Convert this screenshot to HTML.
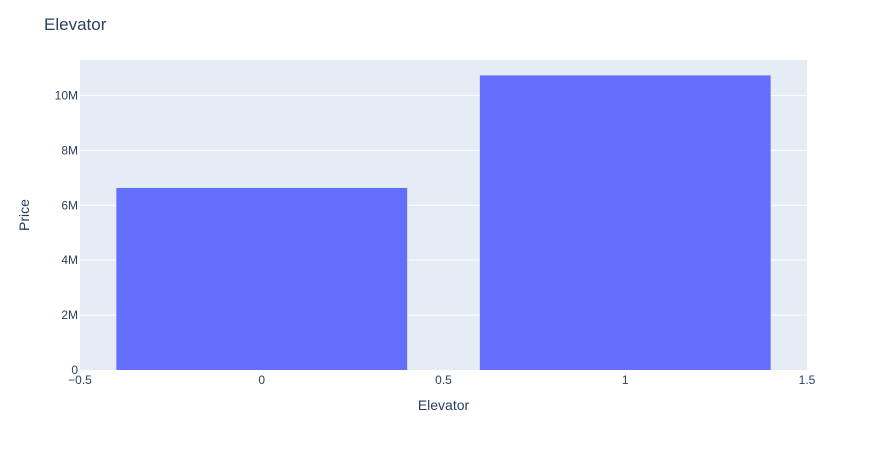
<!DOCTYPE html>
<html>
<head>
<meta charset="utf-8">
<style>
  html, body { margin: 0; padding: 0; background: #fff; }
  svg { display: block; font-family: "Liberation Sans", "DejaVu Sans", sans-serif; }
</style>
</head>
<body>
<svg id="chart" width="887" height="450" viewBox="0 0 887 450" xmlns="http://www.w3.org/2000/svg">
  <rect x="80" y="60" width="727" height="310" fill="#e5ecf6"></rect>
  <g id="grid"></g>
  <g id="bars"></g>
  <g id="yticks"></g>
  <g id="xticks"></g>
  <text x="44" y="30" font-size="17" fill="#2a3f5f">Elevator</text>
  <text x="443.5" y="410" font-size="14" fill="#2a3f5f" text-anchor="middle">Elevator</text>
  <text x="29" y="215" font-size="14" fill="#2a3f5f" text-anchor="middle" transform="rotate(-90 29 215)">Price</text>
</svg>
<script>
const categories = [0, 1];
const prices = [6630000, 10730000];
const yTickValues = [0, 2000000, 4000000, 6000000, 8000000, 10000000];
const yTickLabels = ["0", "2M", "4M", "6M", "8M", "10M"];
const xTickValues = [-0.5, 0, 0.5, 1, 1.5];
const xTickLabels = ["\u22120.5", "0", "0.5", "1", "1.5"];

const NS = "http://www.w3.org/2000/svg";
const plotL = 80, plotR = 807, plotT = 60, plotB = 370;
const xMin = -0.5, xMax = 1.5, yMin = 0, yMax = 11290000;
function xScale(v) { return plotL + (v - xMin) / (xMax - xMin) * (plotR - plotL); }
function yScale(v) { return plotB - (v - yMin) / (yMax - yMin) * (plotB - plotT); }

const grid = document.getElementById('grid');
const bars = document.getElementById('bars');
const yt = document.getElementById('yticks');
const xt = document.getElementById('xticks');

yTickValues.forEach((v, i) => {
  const y = yScale(v);
  if (v !== 0) {
    const l = document.createElementNS(NS, 'line');
    
    
    l.setAttribute('x1', plotL); l.setAttribute('x2', plotR);
    l.setAttribute('y1', y); l.setAttribute('y2', y);
    l.setAttribute('stroke', '#fff'); l.setAttribute('stroke-width', '1');
    grid.appendChild(l);
  }
  const t = document.createElementNS(NS, 'text');
  
  
  t.setAttribute('x', plotL - 2); t.setAttribute('y', y + 4);
  t.setAttribute('text-anchor', 'end'); t.setAttribute('font-size', '12'); t.setAttribute('fill', '#2a3f5f');
  t.textContent = yTickLabels[i];
  yt.appendChild(t);
});

xTickValues.forEach((v, i) => {
  const t = document.createElementNS(NS, 'text');
  
  
  t.setAttribute('x', xScale(v)); t.setAttribute('y', plotB + 14);
  t.setAttribute('text-anchor', 'middle'); t.setAttribute('font-size', '12'); t.setAttribute('fill', '#2a3f5f');
  t.textContent = xTickLabels[i];
  xt.appendChild(t);
});

categories.forEach((c, i) => {
  const x0 = xScale(c - 0.4), x1 = xScale(c + 0.4);
  const y = yScale(prices[i]);
  const r = document.createElementNS(NS, 'rect');
  
  
  r.setAttribute('x', x0); r.setAttribute('y', y);
  r.setAttribute('width', x1 - x0); r.setAttribute('height', yScale(0) - y);
  r.setAttribute('fill', '#636efa');
  bars.appendChild(r);
});
</script>
</body>
</html>
